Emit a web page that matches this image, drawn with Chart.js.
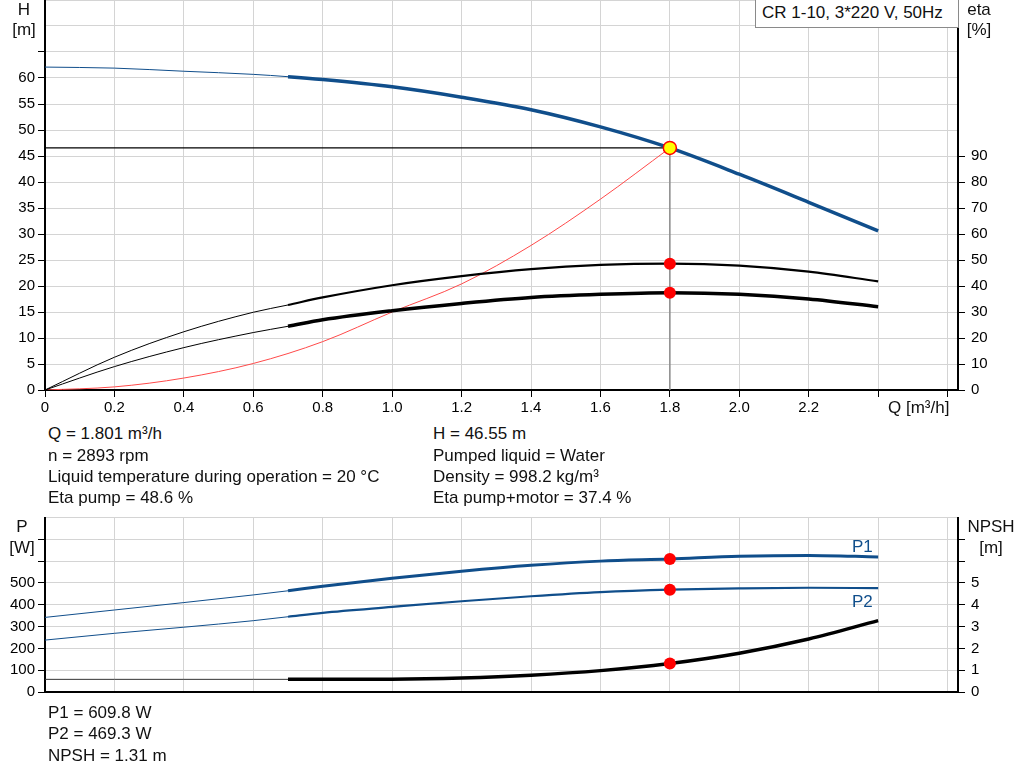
<!DOCTYPE html>
<html>
<head>
<meta charset="utf-8">
<script src="https://cdn.jsdelivr.net/npm/chart.js@4"></script>
<style>
  body { margin: 0; background: #fff; font-family: "Liberation Sans", Arial, sans-serif; color: #111; }
  #wrap { position: relative; width: 1024px; height: 781px; overflow: hidden; }
  canvas { position: absolute; left: 0; }
  .t { position: absolute; font-size: 17px; line-height: 20px; white-space: nowrap; }
  .c { text-align: center; width: 60px; }
  #model { position: absolute; left: 755px; top: 0; border: 1px solid #8a8a8a; border-top: none;
           background: #fff; font-size: 17px; line-height: 26px; padding-left: 6px; box-sizing: border-box;
           width: 204px; height: 28px; z-index: 2; }
</style>
</head>
<body>
<div id="wrap">
  <canvas id="top" width="1024" height="420" style="top:0"></canvas>
  <canvas id="bottom" width="1024" height="210" style="top:500px"></canvas>

  <div id="model">CR 1-10, 3*220 V, 50Hz</div>

  <div class="t c" style="left:-6px; top:0px">H</div>
  <div class="t c" style="left:-6px; top:20px">[m]</div>
  <div class="t c" style="left:949px; top:0px">eta</div>
  <div class="t c" style="left:949px; top:20px">[%]</div>
  <div class="t" style="left:888px; top:398px">Q [m³/h]</div>

  <div class="t" style="left:48px; top:424px">Q = 1.801 m³/h</div>
  <div class="t" style="left:48px; top:446px">n = 2893 rpm</div>
  <div class="t" style="left:48px; top:467px">Liquid temperature during operation = 20 °C</div>
  <div class="t" style="left:48px; top:488px">Eta pump = 48.6 %</div>
  <div class="t" style="left:433px; top:424px">H = 46.55 m</div>
  <div class="t" style="left:433px; top:446px">Pumped liquid = Water</div>
  <div class="t" style="left:433px; top:467px">Density = 998.2 kg/m³</div>
  <div class="t" style="left:433px; top:488px">Eta pump+motor = 37.4 %</div>

  <div class="t c" style="left:-8px; top:517px">P</div>
  <div class="t c" style="left:-8px; top:538px">[W]</div>
  <div class="t c" style="left:961px; top:517px">NPSH</div>
  <div class="t c" style="left:961px; top:538px">[m]</div>
  <div class="t" style="left:852px; top:537px; color:#104e8b">P1</div>
  <div class="t" style="left:852px; top:592px; color:#104e8b">P2</div>

  <div class="t" style="left:48px; top:703px">P1 = 609.8 W</div>
  <div class="t" style="left:48px; top:724px">P2 = 469.3 W</div>
  <div class="t" style="left:48px; top:746px">NPSH = 1.31 m</div>
</div>

<script>
// Flow points (m³/h) shared by all pump curves
const qPts = [0, 0.2, 0.4, 0.6, 0.7, 0.8, 1.0, 1.2, 1.4, 1.6, 1.8, 2.0, 2.2, 2.4];

// Top chart series
const headM     = [62.1, 61.9, 61.3, 60.7, 60.25, 59.7, 58.3, 56.3, 53.9, 50.6, 46.55, 41.5, 36.1, 30.6];
const etaPump   = [0, 12.6, 22.4, 29.9, 32.7, 35.6, 40.3, 43.8, 46.5, 48.1, 48.6, 47.8, 45.5, 41.8];
const etaTotal  = [0, 9.0, 16.3, 22.1, 24.5, 27.0, 30.5, 33.3, 35.6, 36.8, 37.4, 36.8, 35.0, 32.0];

// System curve (through the duty point)
const sysQ = [0, 0.2, 0.4, 0.6, 0.8, 1.0, 1.2, 1.4, 1.6, 1.8];
const sysH = [0, 0.6, 2.3, 5.1, 9.3, 15.0, 20.4, 27.8, 36.7, 46.55];

// Bottom chart series
const p1W    = [342, 376, 410, 445, 464, 485, 522, 554, 581, 600, 609.8, 622, 626, 619];
const p2W    = [238, 269, 297, 327, 345, 363, 390, 416, 439, 458, 469.3, 475, 478, 476];
const npshM  = [0.58, 0.58, 0.58, 0.58, 0.58, 0.585, 0.59, 0.645, 0.77, 0.98, 1.31, 1.78, 2.43, 3.27];

// Duty point
const dutyQ = 1.8;
const dutyH = 46.55;
const dutyEta = [48.6, 37.4];
const dutyP = [609.8, 469.3];
const dutyNpsh = 1.31;

// Tick labels
const qTicks = [0, 0.2, 0.4, 0.6, 0.8, 1.0, 1.2, 1.4, 1.6, 1.8, 2.0, 2.2, 2.4, 2.6];
const qLabels = ['0', '0.2', '0.4', '0.6', '0.8', '1.0', '1.2', '1.4', '1.6', '1.8', '2.0', '2.2', '', ''];

const BLUE = '#104e8b';
const GRID = '#d4d4d4';
const FONT = { family: '"Liberation Sans", Arial, sans-serif', size: 15 };
const pts = (xs, ys) => xs.map((x, i) => ({ x: x, y: ys[i] }));
const thinThick = (w) => ctx => ctx.p0.parsed.x < 0.69 ? 1 : w;

// keep the plot area edges exactly where the axes are, no label overhang padding
function noPad(s) {
  s.paddingTop = 0; s.paddingBottom = 0; s.paddingLeft = 0; s.paddingRight = 0;
}

function xScale(showLabels, h) {
  return {
    type: 'linear', min: 0, max: 2.63,
    afterBuildTicks: s => { s.ticks = qTicks.map(v => ({ value: v })); },
    afterFit: s => { s.height = h; noPad(s); },
    ticks: { display: showLabels, autoSkip: false, maxRotation: 0, padding: 2, color: '#000', font: FONT,
             callback: (v, i) => qLabels[i] },
    grid: { color: GRID, tickLength: 7, tickColor: '#000', drawTicks: showLabels },
    border: { color: '#000', width: 2 }
  };
}

function yScale(pos, max, step, lastLabel, lastTick, width, onArea) {
  return {
    type: 'linear', position: pos, min: 0, max: max,
    afterFit: s => { s.width = width; noPad(s); },
    ticks: { stepSize: step, autoSkip: false, padding: pos === 'left' ? 3 : 6, color: '#000', font: FONT,
             callback: v => v <= lastLabel ? v : '' },
    grid: { drawOnChartArea: onArea, color: GRID, tickLength: 7,
            tickColor: c => c.tick && c.tick.value <= lastTick ? '#000' : 'rgba(0,0,0,0)' },
    border: { color: '#000', width: 2 }
  };
}

const lineBase = { fill: false, pointRadius: 0, cubicInterpolationMode: 'monotone' };

new Chart(document.getElementById('top'), {
  type: 'line',
  data: {
    datasets: [
      { data: [{ x: dutyQ, y: dutyH }], yAxisID: 'y', showLine: false, pointRadius: 6.5,
        pointBackgroundColor: '#ffff00', pointBorderColor: '#ff0000', pointBorderWidth: 1.5, order: 0 },
      { data: pts([dutyQ, dutyQ], dutyEta), yAxisID: 'yR', showLine: false, pointRadius: 6,
        pointBackgroundColor: '#ff0000', pointBorderWidth: 0, order: 0 },
      Object.assign({ data: pts(qPts, headM), yAxisID: 'y', borderColor: BLUE, borderWidth: 3.5,
        segment: { borderWidth: thinThick(3.5) }, order: 1 }, lineBase),
      Object.assign({ data: pts(qPts, etaPump), yAxisID: 'yR', borderColor: '#000', borderWidth: 2,
        segment: { borderWidth: thinThick(2.2) }, order: 2 }, lineBase),
      Object.assign({ data: pts(qPts, etaTotal), yAxisID: 'yR', borderColor: '#000', borderWidth: 3.5,
        segment: { borderWidth: thinThick(3.5) }, order: 2 }, lineBase),
      Object.assign({ data: pts(sysQ, sysH), yAxisID: 'y', borderColor: '#ff4a4a', borderWidth: 1, order: 3 }, lineBase),
      { data: [{ x: 0, y: dutyH }, { x: dutyQ, y: dutyH }], yAxisID: 'y', borderColor: '#000', borderWidth: 1.2,
        pointRadius: 0, tension: 0, order: 4 },
      { data: [{ x: dutyQ, y: 0 }, { x: dutyQ, y: dutyH }], yAxisID: 'y', borderColor: '#8c8c8c', borderWidth: 1.5,
        pointRadius: 0, tension: 0, order: 4 }
    ]
  },
  options: {
    responsive: false, animation: false, devicePixelRatio: 1,
    layout: { autoPadding: false, padding: { top: 0, left: 0, right: 0, bottom: 0 } },
    plugins: { legend: { display: false }, tooltip: { enabled: false } },
    scales: {
      x: xScale(true, 30),
      y: yScale('left', 75, 5, 60, 65, 45, true),
      yR: yScale('right', 150, 10, 90, 90, 66, false)
    }
  }
});

new Chart(document.getElementById('bottom'), {
  type: 'line',
  data: {
    datasets: [
      { data: pts([dutyQ, dutyQ], dutyP), yAxisID: 'y', showLine: false, pointRadius: 6,
        pointBackgroundColor: '#ff0000', pointBorderWidth: 0, order: 0 },
      { data: [{ x: dutyQ, y: dutyNpsh }], yAxisID: 'yR', showLine: false, pointRadius: 6,
        pointBackgroundColor: '#ff0000', pointBorderWidth: 0, order: 0 },
      Object.assign({ data: pts(qPts, p1W), yAxisID: 'y', borderColor: BLUE, borderWidth: 3,
        segment: { borderWidth: thinThick(3) }, order: 1 }, lineBase),
      Object.assign({ data: pts(qPts, p2W), yAxisID: 'y', borderColor: BLUE, borderWidth: 2.2,
        segment: { borderWidth: thinThick(2.2) }, order: 1 }, lineBase),
      Object.assign({ data: pts(qPts, npshM), yAxisID: 'yR', borderColor: '#000', borderWidth: 3.5,
        segment: { borderWidth: thinThick(3.5), borderColor: c => c.p0.parsed.x < 0.69 ? '#333' : '#000' }, order: 1 }, lineBase)
    ]
  },
  options: {
    responsive: false, animation: false, devicePixelRatio: 1,
    layout: { autoPadding: false, padding: { top: 17.5, left: 0, right: 0, bottom: 0 } },
    plugins: { legend: { display: false }, tooltip: { enabled: false } },
    scales: {
      x: xScale(false, 18),
      y: yScale('left', 800, 100, 500, 700, 45, true),
      yR: yScale('right', 8, 1, 5, 7, 66, false)
    }
  }
});
</script>
</body>
</html>
